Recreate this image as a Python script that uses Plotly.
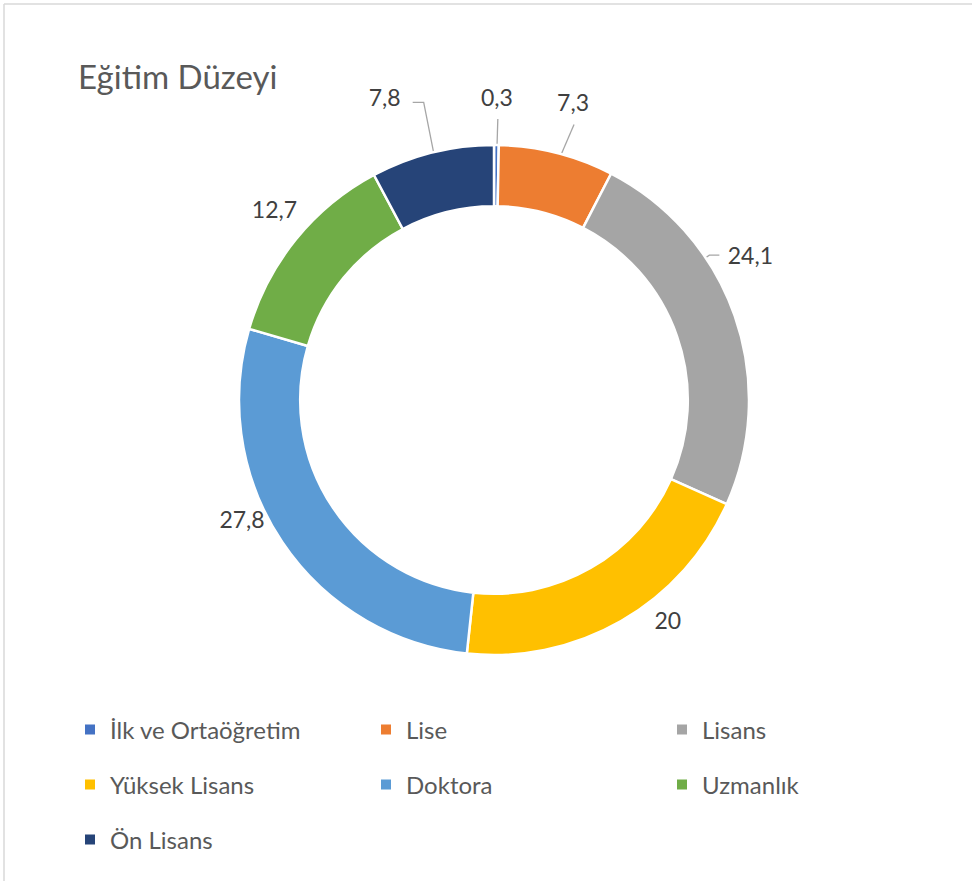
import math
import plotly.graph_objects as go

# ---- data ----
categories = ["İlk ve Ortaöğretim", "Lise", "Lisans", "Yüksek Lisans",
              "Doktora", "Uzmanlık", "Ön Lisans"]
values = [0.3, 7.3, 24.1, 20, 27.8, 12.7, 7.8]
title_text = "Eğitim Düzeyi"

# ---- style ----
colors = ["#4472C4", "#ED7D31", "#A5A5A5", "#FFC000", "#5B9BD5", "#70AD47", "#264478"]
W, H = 972, 881
cx, cy, R = 494, 400, 255
hole = 0.76
FONT = "Lato"
label_shift_deg = [0, 0.8, -9.7, -8, 8, 1.5, -6]
label_r = [300, 305, 293, 283, 280, 289, 319]
leader_side = ["bottom", "bottom", "left", None, None, None, "right"]
LEADER_COL = "#A6A6A6"

total = sum(values)
mids = []
cum = 0
for v in values:
    mids.append((cum + v / 2) / total * 360)
    cum += v


def pt(theta, r):
    t = math.radians(theta)
    return cx + r * math.sin(t), cy - r * math.cos(t)


fig = go.Figure()

fig.add_trace(go.Pie(
    labels=categories, values=values, sort=False, direction="clockwise",
    rotation=0, hole=hole, textinfo="none", showlegend=False, hoverinfo="none",
    marker=dict(colors=colors, line=dict(color="white", width=2.5)),
    domain=dict(x=[(cx - R) / W, (cx + R) / W], y=[1 - (cy + R) / H, 1 - (cy - R) / H]),
))

# data labels + leader lines
lx, ly, ltxt = [], [], []
mid_r = R * (1 + hole) / 2
for i, v in enumerate(values):
    x, y = pt(mids[i] + label_shift_deg[i], label_r[i])
    lx.append(x)
    ly.append(y)
    ltxt.append(f"{v:g}".replace(".", ","))
    side = leader_side[i]
    if side is None:
        continue
    if side == "bottom":
        ex, ey = pt(mids[i], mid_r)
        xs, ys = [x + 1, ex], [y + 19, ey]
    elif side == "right":
        ex, ey = pt(mids[i], mid_r)
        xs, ys = [x + 28, x + 39, ex], [y + 2, y + 2, ey]
    else:
        bx, by = x - 41, y - 3
        ang = math.degrees(math.atan2(bx - cx, cy - by))
        ex, ey = pt(ang, R)
        xs, ys = [x - 31, bx, ex], [by, by, ey]
    fig.add_trace(go.Scatter(x=xs, y=ys, mode="lines", line=dict(color=LEADER_COL, width=1.3),
                             showlegend=False, hoverinfo="skip"))

fig.add_trace(go.Scatter(x=lx, y=ly, text=ltxt, mode="text", textposition="middle center",
                         textfont=dict(family=FONT, size=23, color="#404040"),
                         showlegend=False, hoverinfo="skip"))

# legend entries (three rows)
legend_names = ["legend", "legend2", "legend3"]
for i, (c, col) in enumerate(zip(categories, colors)):
    fig.add_trace(go.Scatter(x=[None], y=[None], mode="markers", name=c,
                             marker=dict(symbol="square", size=10, color=col),
                             legend=legend_names[i // 3], hoverinfo="skip"))

row_y = [730, 785, 840]
leg_common = dict(orientation="h", x=70 / W, xanchor="left", yanchor="middle",
                  entrywidth=251, entrywidthmode="pixels", bgcolor="rgba(0,0,0,0)",
                  font=dict(family=FONT, size=24, color="#595959"))

fig.update_layout(
    width=W, height=H, margin=dict(l=0, r=0, t=0, b=0),
    paper_bgcolor="white", plot_bgcolor="white", hovermode=False,
    xaxis=dict(range=[0, W], visible=False, fixedrange=True, domain=[0, 1]),
    yaxis=dict(range=[H, 0], visible=False, fixedrange=True, domain=[0, 1]),
    legend=dict(y=1 - row_y[0] / H, **leg_common),
    legend2=dict(y=1 - row_y[1] / H, **leg_common),
    legend3=dict(y=1 - row_y[2] / H, **leg_common),
    annotations=[dict(x=76, y=76, xref="x", yref="y", text=title_text, showarrow=False,
                      xanchor="left", yanchor="middle",
                      font=dict(family=FONT, size=33, color="#595959"))],
    shapes=[
        dict(type="line", xref="paper", yref="paper", x0=4 / W, y0=1 - 4 / H, x1=1, y1=1 - 4 / H,
             line=dict(color="#D9D9D9", width=1.5), layer="above"),
        dict(type="line", xref="paper", yref="paper", x0=4 / W, y0=1 - 4 / H, x1=4 / W, y1=0,
             line=dict(color="#D9D9D9", width=1.5), layer="above"),
    ],
)

fig.write_html("out.html", config={"displayModeBar": False},
               post_script="document.body.style.margin='0';document.body.style.overflow='hidden';")
